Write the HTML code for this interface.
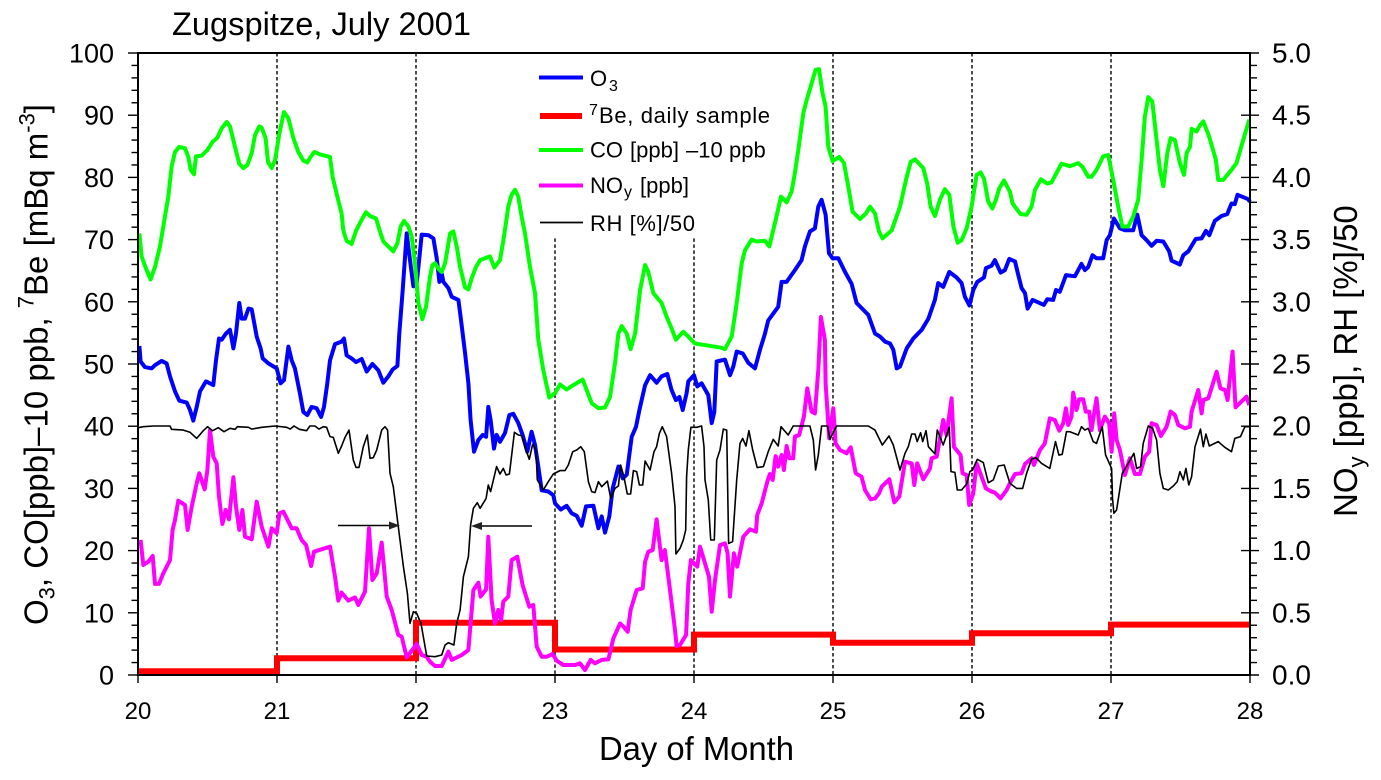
<!DOCTYPE html>
<html lang="en">
<head>
<meta charset="utf-8">
<title>Zugspitze, July 2001</title>
<style>
html,body{margin:0;padding:0;background:#fff;}
svg{display:block;font-family:"Liberation Sans",Arial,sans-serif;fill:#000;}
</style>
</head>
<body>
<svg id="chart" xmlns="http://www.w3.org/2000/svg" width="1381" height="780" viewBox="0 0 1381 780">
  <rect x="0" y="0" width="1381" height="780" fill="#fff"/>
  <text x="172" y="35" font-size="32" textLength="299" lengthAdjust="spacingAndGlyphs">Zugspitze, July 2001</text>
  <g id="grid"></g>
  <g id="series"></g>
  <g id="axes"></g>

  <g>
    <line x1="338" y1="525.5" x2="392" y2="525.5" stroke="#000" stroke-width="1.6"/>
    <polygon points="400,525.5 389,521.5 389,529.5" fill="#222"/>
  </g>
  <g>
    <line x1="480" y1="526" x2="532" y2="526" stroke="#000" stroke-width="1.6"/>
    <polygon points="471,526 482,522 482,530" fill="#222"/>
  </g>

  <g font-size="22">
    <g>
      <line x1="539" y1="77.5" x2="583" y2="77.5" stroke="#0000ff" stroke-width="4"/>
      <text x="590" y="86">O</text><text x="609" y="91" font-size="16">3</text>
    </g>
    <g>
      <line x1="540" y1="116" x2="582" y2="116" stroke="#ff0000" stroke-width="6"/>
      <text x="589" y="115" font-size="16">7</text>
      <text x="599" y="123" textLength="171" lengthAdjust="spacing">Be, daily sample</text>
    </g>
    <g>
      <line x1="539" y1="150" x2="583" y2="150" stroke="#00ff00" stroke-width="4"/>
      <text x="590" y="157.5">CO</text><text x="630" y="157.5">[ppb]</text><text x="686" y="157.5">–10</text><text x="729" y="157.5">ppb</text>
    </g>
    <g>
      <line x1="539" y1="185.5" x2="583" y2="185.5" stroke="#ff00ff" stroke-width="4"/>
      <text x="590" y="193">NO</text><text x="624" y="197" font-size="16">y</text><text x="640" y="193">[ppb]</text>
    </g>
    <g>
      <line x1="540" y1="222.5" x2="583" y2="222.5" stroke="#000" stroke-width="1.7"/>
      <text x="590" y="231" textLength="105" lengthAdjust="spacing">RH [%]/50</text>
    </g>
  </g>

  <text x="599" y="760" font-size="33" textLength="195" lengthAdjust="spacingAndGlyphs">Day of Month</text>
  <text transform="translate(47.5,625) rotate(-90)" font-size="33">O<tspan font-size="22" dy="7">3</tspan><tspan dy="-7">, CO[ppb]–10 ppb, </tspan><tspan font-size="22" dy="-14">7</tspan><tspan dy="14">Be [mBq m</tspan><tspan font-size="22" dy="-13">-3</tspan><tspan dy="13">]</tspan></text>
  <text transform="translate(1357,517) rotate(-90)" font-size="33">NO<tspan font-size="22" dy="7">y</tspan><tspan dy="-7"> [ppb], RH [%]/50</tspan></text>
</svg>
<script>
const dayTicks = [20, 21, 22, 23, 24, 25, 26, 27, 28];
const leftTicks = [0, 10, 20, 30, 40, 50, 60, 70, 80, 90, 100];
const rightTicks = ["0.0", "0.5", "1.0", "1.5", "2.0", "2.5", "3.0", "3.5", "4.0", "4.5", "5.0"];
const tallGridDays = [21, 22, 25, 26, 27];
const shortGridDays = [23, 24];

const beDays = [20, 21, 22, 23, 24, 25, 26, 27];
const beValues = [0.6, 2.7, 8.4, 4.1, 6.5, 5.2, 6.7, 8.1];

const o3Days = [20.01,20.019,20.05,20.098,20.122,20.17,20.206,20.23,20.266,20.297,20.35,20.374,20.398,20.422,20.446,20.489,20.542,20.561,20.583,20.602,20.633,20.662,20.686,20.705,20.729,20.746,20.77,20.794,20.818,20.854,20.882,20.897,20.938,20.998,21.026,21.05,21.082,21.106,21.129,21.165,21.189,21.218,21.249,21.285,21.317,21.338,21.362,21.381,21.417,21.465,21.482,21.501,21.537,21.568,21.609,21.645,21.686,21.729,21.765,21.801,21.832,21.866,21.88,21.904,21.933,21.957,21.981,22.005,22.024,22.041,22.089,22.125,22.149,22.168,22.185,22.197,22.233,22.257,22.305,22.321,22.353,22.377,22.393,22.417,22.449,22.48,22.504,22.52,22.537,22.561,22.58,22.604,22.64,22.672,22.7,22.736,22.767,22.801,22.832,22.856,22.88,22.904,22.952,22.988,23.0,23.041,23.084,23.12,23.156,23.192,23.223,23.276,23.312,23.336,23.36,23.391,23.415,23.456,23.487,23.516,23.552,23.583,23.607,23.648,23.684,23.731,23.767,23.808,23.839,23.87,23.895,23.919,23.947,23.959,24.0,24.024,24.055,24.103,24.127,24.146,24.163,24.223,24.259,24.283,24.307,24.35,24.391,24.439,24.475,24.511,24.534,24.606,24.63,24.666,24.726,24.774,24.798,24.834,24.87,24.894,24.918,24.947,24.971,24.997,25.038,25.086,25.134,25.17,25.254,25.302,25.338,25.374,25.41,25.434,25.458,25.482,25.53,25.578,25.638,25.686,25.733,25.757,25.793,25.837,25.889,25.925,25.949,25.981,26.009,26.038,26.086,26.1,26.141,26.165,26.206,26.237,26.268,26.309,26.333,26.357,26.381,26.4,26.436,26.477,26.517,26.541,26.584,26.604,26.632,26.676,26.74,26.788,26.812,26.836,26.867,26.896,26.944,26.968,26.992,27.021,27.064,27.1,27.16,27.189,27.22,27.256,27.292,27.328,27.376,27.419,27.436,27.496,27.52,27.556,27.609,27.652,27.683,27.707,27.747,27.795,27.836,27.867,27.891,27.91,27.987,27.999];
const o3Values = [52.9,50.4,49.5,49.3,49.8,50.5,50.1,48.0,45.6,44.1,43.8,42.6,40.9,43.1,45.6,47.2,46.6,50.6,54.1,53.9,54.9,55.5,52.5,54.9,59.8,57.3,57.3,58.9,58.8,54.4,52.5,50.9,50.1,49.3,46.9,47.4,52.8,50.6,49.3,45.3,42.3,41.8,43.1,42.9,41.5,43.1,46.9,50.6,53.2,53.6,54.1,51.4,50.9,50.3,50.8,48.8,50.0,49.0,47.0,48.0,49.1,49.7,54.9,61.9,71.0,66.7,62.5,63.0,67.0,70.8,70.7,70.2,67.0,63.2,64.6,63.2,62.2,60.8,60.3,57.6,51.7,46.9,41.0,35.9,37.8,38.6,38.3,43.1,41.0,36.4,38.6,37.5,38.9,41.8,42.0,40.5,38.6,35.9,39.1,37.0,33.5,29.7,29.5,28.9,27.6,26.6,27.2,26.0,25.6,24.0,27.1,27.2,23.6,25.5,22.9,25.5,30.0,33.5,31.6,32.2,38.3,39.9,42.6,46.6,48.2,47.0,48.0,48.4,45.8,44.2,44.7,42.6,45.3,47.2,48.2,46.4,46.9,45.0,40.5,42.3,50.4,50.7,48.2,49.6,52.0,51.7,50.2,49.3,52.3,54.9,57.0,59.2,63.2,63.2,65.1,66.7,68.9,71.3,71.8,75.3,76.4,74.0,67.8,67.0,67.0,64.8,62.9,59.8,57.9,54.9,54.4,53.6,53.3,52.3,49.3,49.6,52.5,54.1,55.5,57.3,60.3,63.0,62.4,64.8,63.9,63.0,60.8,59.4,61.9,63.2,63.9,65.4,65.8,66.7,64.7,65.1,66.9,66.5,64.3,62.2,61.4,58.9,60.3,59.9,59.5,60.4,60.3,61.9,61.6,64.3,64.1,66.1,65.1,65.6,67.5,67.0,67.0,69.9,70.7,73.4,71.8,71.5,71.5,74.0,70.7,69.9,69.0,69.8,69.7,68.1,66.6,66.0,67.5,68.1,70.1,70.2,71.4,70.7,73.0,73.8,74.1,75.8,75.7,77.2,76.5,76.1];

const coDays = [20.01,20.026,20.062,20.091,20.122,20.158,20.182,20.218,20.242,20.266,20.297,20.338,20.362,20.379,20.403,20.417,20.458,20.499,20.537,20.571,20.602,20.638,20.662,20.698,20.729,20.758,20.787,20.818,20.842,20.873,20.89,20.918,20.935,20.962,20.986,21.017,21.05,21.082,21.118,21.153,21.189,21.218,21.242,21.269,21.309,21.381,21.4,21.429,21.465,21.477,21.501,21.537,21.568,21.609,21.64,21.669,21.712,21.741,21.765,21.801,21.837,21.866,21.89,21.914,21.945,21.969,21.993,22.017,22.046,22.072,22.101,22.118,22.137,22.161,22.185,22.209,22.245,22.269,22.293,22.317,22.353,22.377,22.401,22.432,22.461,22.496,22.532,22.564,22.604,22.633,22.664,22.688,22.712,22.736,22.76,22.784,22.82,22.856,22.88,22.916,22.959,23.0,23.036,23.084,23.132,23.199,23.228,23.264,23.312,23.36,23.396,23.432,23.456,23.48,23.516,23.544,23.576,23.612,23.648,23.671,23.707,23.767,23.803,23.839,23.87,23.923,23.959,24.007,24.199,24.223,24.271,24.307,24.343,24.367,24.415,24.451,24.511,24.542,24.582,24.626,24.666,24.702,24.726,24.75,24.786,24.81,24.846,24.875,24.899,24.925,24.947,24.966,24.997,25.045,25.079,25.11,25.141,25.194,25.237,25.266,25.302,25.331,25.357,25.422,25.482,25.525,25.559,25.59,25.65,25.678,25.702,25.733,25.769,25.805,25.837,25.866,25.897,25.925,25.961,25.997,26.033,26.062,26.086,26.117,26.146,26.172,26.196,26.23,26.273,26.292,26.325,26.349,26.393,26.429,26.453,26.496,26.541,26.572,26.608,26.644,26.704,26.764,26.795,26.836,26.86,26.896,26.944,26.98,27.016,27.052,27.081,27.124,27.16,27.196,27.22,27.244,27.268,27.297,27.328,27.352,27.376,27.405,27.429,27.46,27.496,27.525,27.544,27.568,27.58,27.616,27.64,27.664,27.707,27.755,27.771,27.807,27.867,27.903,27.951,27.995];
const coValues = [71.0,67.3,65.1,63.6,65.6,68.9,72.1,76.9,81.7,84.1,84.9,84.7,83.3,81.2,80.5,83.4,83.5,84.4,85.7,86.4,87.9,88.9,88.2,84.9,82.2,81.5,82.0,83.9,86.8,88.2,88.0,86.3,82.5,81.5,82.8,87.1,90.5,89.5,86.3,84.1,82.7,82.4,83.3,84.1,83.7,83.3,80.1,77.4,74.2,71.5,69.8,69.3,71.4,73.2,74.4,73.8,73.4,71.3,69.7,68.9,68.1,69.4,72.1,73.0,72.1,70.5,66.2,59.8,57.2,59.2,64.0,65.9,66.2,65.3,64.8,66.2,71.0,71.3,68.9,65.6,62.3,62.0,63.8,65.6,66.7,67.0,67.3,65.5,66.7,70.5,75.3,77.2,78.0,76.9,73.7,71.0,65.6,61.4,53.9,49.0,44.6,45.3,46.7,45.9,46.6,47.5,45.8,43.7,42.9,43.0,44.7,50.1,54.9,56.1,54.9,52.4,54.9,61.9,65.9,64.8,61.4,59.8,57.6,55.7,53.9,55.2,54.4,53.3,52.6,52.4,54.4,59.8,66.2,68.3,70.0,69.7,69.8,68.9,72.6,76.9,76.0,77.7,80.7,84.4,90.3,92.4,95.1,97.3,97.4,93.5,91.4,84.9,82.6,83.3,82.3,78.5,74.5,73.3,74.2,75.3,74.2,71.3,70.2,71.5,75.3,79.6,82.5,82.9,81.5,79.0,75.3,73.8,76.4,78.1,77.2,72.1,69.5,69.9,71.8,75.3,80.4,80.8,79.8,76.1,75.0,76.4,78.2,79.5,77.7,75.8,74.8,74.1,74.0,75.3,78.0,79.7,79.0,79.2,80.7,82.2,81.8,82.3,81.7,80.1,80.1,81.2,83.4,83.6,79.6,75.3,72.1,72.1,73.7,76.4,82.8,89.8,92.9,92.2,86.0,81.2,78.6,83.9,86.3,86.0,82.3,80.4,83.9,84.9,87.8,87.4,88.4,89.0,86.5,82.8,79.6,79.6,81.2,82.3,86.0,89.3];

const noyDays = [20.019,20.038,20.074,20.106,20.122,20.151,20.182,20.23,20.249,20.266,20.29,20.338,20.357,20.386,20.422,20.441,20.48,20.499,20.518,20.542,20.566,20.583,20.607,20.631,20.655,20.686,20.705,20.729,20.751,20.77,20.818,20.854,20.89,20.938,20.962,20.998,21.017,21.046,21.106,21.141,21.177,21.209,21.245,21.266,21.381,21.417,21.441,21.465,21.513,21.561,21.585,21.633,21.662,21.686,21.717,21.753,21.789,21.825,21.873,21.897,21.933,22.005,22.041,22.077,22.101,22.137,22.185,22.233,22.257,22.329,22.377,22.413,22.449,22.465,22.504,22.52,22.544,22.568,22.592,22.612,22.628,22.664,22.688,22.729,22.767,22.815,22.844,22.868,22.904,22.94,22.983,23.012,23.06,23.144,23.18,23.216,23.257,23.288,23.336,23.384,23.42,23.468,23.492,23.523,23.544,23.588,23.631,23.648,23.671,23.703,23.731,23.767,23.791,23.827,23.863,23.875,23.899,23.943,23.959,23.978,24.024,24.043,24.079,24.108,24.127,24.151,24.187,24.223,24.242,24.259,24.287,24.311,24.355,24.403,24.446,24.455,24.487,24.527,24.546,24.566,24.587,24.606,24.63,24.647,24.666,24.686,24.714,24.726,24.757,24.791,24.815,24.846,24.87,24.894,24.913,24.942,24.947,24.973,25.002,25.019,25.05,25.098,25.127,25.163,25.206,25.23,25.271,25.302,25.331,25.35,25.405,25.441,25.477,25.518,25.566,25.585,25.606,25.65,25.698,25.709,25.746,25.793,25.817,25.853,25.87,25.918,25.932,25.961,25.98,26.009,26.033,26.069,26.1,26.141,26.165,26.206,26.249,26.273,26.309,26.357,26.381,26.429,26.445,26.489,26.524,26.56,26.596,26.628,26.656,26.676,26.692,26.716,26.728,26.752,26.771,26.8,26.819,26.843,26.86,26.896,26.92,26.956,26.987,27.004,27.023,27.04,27.064,27.1,27.136,27.172,27.208,27.244,27.275,27.292,27.328,27.359,27.4,27.429,27.46,27.484,27.532,27.568,27.58,27.628,27.652,27.664,27.7,27.76,27.788,27.82,27.839,27.875,27.896,27.975,27.995];
const noyValues = [1.085,.884,.911,.957,.732,.732,.817,.924,1.166,1.246,1.401,1.367,1.166,1.353,1.541,1.621,1.492,1.648,1.969,1.755,1.701,1.434,1.214,1.326,1.251,1.589,1.353,1.166,1.326,1.112,1.091,1.393,1.192,1.032,1.179,1.139,1.3,1.313,1.179,1.179,1.085,1.045,.876,.991,1.032,.79,.598,.662,.598,.624,.563,.67,1.179,.764,.817,1.064,.63,.523,.322,.308,.142,.249,.161,.147,.107,.072,.072,.188,.121,.161,.201,.683,.742,.63,.689,1.112,.603,.415,.523,.442,.59,.63,.924,.951,.723,.549,.563,.228,.147,.147,.169,.115,.08,.08,.094,.04,.121,.094,.121,.126,.295,.415,.389,.348,.523,.683,.697,.911,.991,1.005,1.251,.924,1.005,.683,.362,.233,.241,.322,.737,.924,.871,1.032,.898,.79,.509,.764,1.045,1.058,.978,.63,.978,.871,1.112,1.171,1.152,1.286,1.38,1.554,1.616,1.568,1.76,1.675,1.768,1.648,1.841,1.742,1.742,1.916,1.929,2.077,2.304,2.117,2.103,2.452,2.878,2.693,2.345,1.903,2.144,1.862,1.809,1.782,1.83,1.621,1.594,1.487,1.412,1.42,1.46,1.514,1.573,1.388,1.434,1.715,1.701,1.527,1.701,1.573,1.661,1.742,1.755,2.05,1.929,2.224,1.835,1.768,1.621,1.608,1.367,1.46,1.701,1.594,1.5,1.474,1.466,1.42,1.487,1.541,1.616,1.621,1.696,1.742,1.688,1.809,1.862,2.063,2.05,1.964,2.023,2.144,2.01,2.077,2.27,2.13,2.216,2.216,2.117,2.117,1.969,2.224,1.969,2.077,2.023,1.795,2.103,1.889,1.809,1.608,1.742,1.616,1.616,1.755,1.795,2.023,2.01,1.921,1.996,2.117,2.09,2.01,1.983,1.996,2.117,2.291,2.103,2.211,2.224,2.438,2.304,2.291,2.211,2.6,2.152,2.237,2.17];

const rhDays = [20.002,20.038,20.11,20.23,20.242,20.326,20.374,20.422,20.47,20.501,20.537,20.578,20.619,20.662,20.698,20.715,20.794,20.818,20.89,20.986,21.07,21.094,21.122,21.161,21.213,21.237,21.273,21.302,21.333,21.357,21.381,21.405,21.441,21.465,21.489,21.518,21.549,21.568,21.59,21.621,21.65,21.669,21.693,21.717,21.753,21.777,21.796,21.813,21.837,21.873,21.909,21.938,21.957,21.981,22.005,22.036,22.077,22.137,22.185,22.209,22.233,22.273,22.293,22.317,22.341,22.377,22.393,22.413,22.441,22.461,22.504,22.52,22.537,22.58,22.604,22.628,22.648,22.672,22.708,22.736,22.76,22.791,22.815,22.839,22.863,22.873,22.916,22.952,22.988,23.036,23.072,23.096,23.127,23.156,23.185,23.211,23.24,23.264,23.288,23.312,23.336,23.377,23.401,23.432,23.456,23.472,23.496,23.52,23.544,23.564,23.588,23.607,23.631,23.648,23.684,23.712,23.731,23.751,23.772,23.803,23.839,23.863,23.87,23.899,23.923,23.94,23.947,23.959,23.978,24.019,24.055,24.072,24.079,24.103,24.12,24.146,24.163,24.187,24.211,24.235,24.249,24.278,24.307,24.331,24.35,24.374,24.395,24.422,24.455,24.499,24.534,24.57,24.606,24.626,24.678,24.714,24.834,24.858,24.875,24.894,24.918,24.961,24.978,25.026,25.254,25.302,25.355,25.403,25.434,25.482,25.518,25.542,25.566,25.59,25.606,25.63,25.645,25.669,25.686,25.733,25.75,25.793,25.837,25.849,25.877,25.894,25.925,25.961,25.985,26.004,26.038,26.081,26.117,26.153,26.189,26.232,26.273,26.321,26.364,26.393,26.429,26.46,26.501,26.56,26.601,26.625,26.649,26.68,26.704,26.764,26.788,26.812,26.836,26.872,26.896,26.937,26.961,27.004,27.011,27.021,27.04,27.081,27.124,27.165,27.184,27.213,27.232,27.268,27.299,27.328,27.352,27.376,27.412,27.448,27.476,27.496,27.52,27.539,27.56,27.58,27.604,27.644,27.664,27.683,27.707,27.771,27.819,27.867,27.891,27.932,27.963,27.995];
const rhValues = [1.988,1.996,2.002,2.002,1.975,1.969,1.951,1.902,1.964,1.996,1.964,1.988,1.956,1.983,1.975,1.996,1.991,1.977,1.991,2.002,1.991,1.977,2.002,1.975,1.964,2.002,2.002,1.977,1.996,1.991,1.916,1.91,1.782,1.841,1.91,1.969,1.728,1.669,1.669,1.835,1.929,1.742,1.747,1.809,1.969,1.996,1.969,1.621,1.514,1.192,.871,.656,.415,.509,.496,.415,.153,.147,.161,.241,.26,.241,.415,.523,.79,.951,1.206,1.34,1.385,1.34,1.42,1.527,1.474,1.675,1.616,1.661,1.608,1.616,1.951,1.929,1.924,1.809,1.734,1.854,1.809,1.568,1.487,1.554,1.616,1.643,1.643,1.688,1.795,1.809,1.835,1.795,1.554,1.474,1.466,1.554,1.514,1.559,1.42,1.5,1.519,1.688,1.594,1.455,1.455,1.643,1.634,1.527,1.527,1.72,1.648,1.795,1.835,1.943,1.996,1.916,1.621,1.353,.973,1.018,1.085,1.166,1.594,1.809,1.991,1.991,2.002,1.835,1.568,1.407,1.085,1.085,1.728,1.809,1.977,1.969,1.058,1.072,1.568,1.862,1.902,1.841,1.964,1.809,1.667,1.675,1.795,1.894,1.841,1.996,1.929,2.002,2.002,1.889,1.648,1.768,2.002,2.002,1.894,2.002,2.002,1.969,1.849,1.921,1.849,1.648,1.782,1.835,1.937,1.937,1.876,1.948,1.876,1.964,1.835,1.777,1.969,1.849,1.991,1.635,1.629,1.487,1.487,1.535,1.635,1.648,1.734,1.707,1.546,1.568,1.68,1.688,1.541,1.5,1.5,1.621,1.736,1.747,1.701,1.661,1.876,1.768,1.774,1.956,1.956,1.929,1.996,1.969,1.983,1.876,1.862,1.996,1.768,1.661,1.42,1.3,1.326,1.621,1.701,1.782,1.661,1.675,1.862,2.002,1.983,1.889,1.621,1.5,1.487,1.519,1.554,1.634,1.568,1.661,1.527,1.594,1.835,1.977,1.835,1.937,1.841,1.876,1.83,1.795,1.902,1.916,1.996,1.996];

const svgNS = "http://www.w3.org/2000/svg";
const xScale = function (day) { return 138 + (day - 20) * 139; };
const yLeft = function (v) { return 675 - v * 6.22; };
const yRight = function (v) { return 675 - v * 124.4; };

function make(tag, attrs, parent) {
  const node = document.createElementNS(svgNS, tag);
  for (const key in attrs) { node.setAttribute(key, attrs[key]); }
  parent.appendChild(node);
  return node;
}
function linePath(days, values, yScale) {
  return days.map(function (d, i) {
    return (i ? "L" : "M") + xScale(d).toFixed(1) + " " + yScale(values[i]).toFixed(1);
  }).join("");
}
function stepPath(days, values, yScale, endDay) {
  let path = "";
  days.forEach(function (d, i) {
    const next = i + 1 < days.length ? days[i + 1] : endDay;
    path += (i ? "L" : "M") + xScale(d).toFixed(1) + " " + yScale(values[i]).toFixed(1);
    path += "L" + xScale(next).toFixed(1) + " " + yScale(values[i]).toFixed(1);
  });
  return path;
}

const gridLayer = document.getElementById("grid");
const seriesLayer = document.getElementById("series");
const axesLayer = document.getElementById("axes");

tallGridDays.forEach(function (d) {
  const el = make("line", { x1: xScale(d), x2: xScale(d), y1: yLeft(100), y2: yLeft(0), stroke: "#000", "stroke-width": 1.4, "stroke-dasharray": "3.5 2.5" }, gridLayer);
  
  
});
shortGridDays.forEach(function (d) {
  const el = make("line", { x1: xScale(d), x2: xScale(d), y1: yLeft(70.2), y2: yLeft(0), stroke: "#000", "stroke-width": 1.4, "stroke-dasharray": "3.5 2.5" }, gridLayer);
  
  
});

const o3Line = make("path", { d: linePath(o3Days, o3Values, yLeft), fill: "none", stroke: "#0000ff", "stroke-width": 4, "stroke-linejoin": "round" }, seriesLayer);



const beLine = make("path", { d: stepPath(beDays, beValues, yLeft, 28), fill: "none", stroke: "#ff0000", "stroke-width": 6, "stroke-linejoin": "miter" }, seriesLayer);



const coLine = make("path", { d: linePath(coDays, coValues, yLeft), fill: "none", stroke: "#00ff00", "stroke-width": 4, "stroke-linejoin": "round" }, seriesLayer);



const noyLine = make("path", { d: linePath(noyDays, noyValues, yRight), fill: "none", stroke: "#ff00ff", "stroke-width": 4, "stroke-linejoin": "round" }, seriesLayer);



const rhLine = make("path", { d: linePath(rhDays, rhValues, yRight), fill: "none", stroke: "#000", "stroke-width": 1.6, "stroke-linejoin": "round" }, seriesLayer);



const frame = make("rect", { x: xScale(20), y: yLeft(100), width: xScale(28) - xScale(20), height: yLeft(0) - yLeft(100), fill: "none", stroke: "#000", "stroke-width": 2 }, axesLayer);



leftTicks.forEach(function (v, i) {
  const major = make("line", { x1: 128, x2: 138, y1: yLeft(v), y2: yLeft(v), stroke: "#000", "stroke-width": 1.4 }, axesLayer);
  
  
  const label = make("text", { x: 114, y: yLeft(v) + 9.5, "font-size": 27, "text-anchor": "end" }, axesLayer);
  
  
  label.textContent = String(v);
  if (i < leftTicks.length - 1) {
    for (let k = 1; k < 5; k++) {
      const minor = make("line", { x1: 131.5, x2: 138, y1: yLeft(v + k * 2), y2: yLeft(v + k * 2), stroke: "#000", "stroke-width": 1.4 }, axesLayer);
      
      
    }
  }
});

rightTicks.forEach(function (t, i) {
  const v = parseFloat(t);
  const major = make("line", { x1: 1241, x2: 1259, y1: yRight(v), y2: yRight(v), stroke: "#000", "stroke-width": 1.4 }, axesLayer);
  
  
  const label = make("text", { x: 1272, y: yRight(v) + 9.5, "font-size": 28 }, axesLayer);
  
  
  label.textContent = t;
  if (i < rightTicks.length - 1) {
    for (let k = 1; k < 5; k++) {
      const minor = make("line", { x1: 1250, x2: 1257, y1: yRight(v + k * 0.1), y2: yRight(v + k * 0.1), stroke: "#000", "stroke-width": 1.4 }, axesLayer);
      
      
    }
  }
});

dayTicks.forEach(function (d) {
  const tick = make("line", { x1: xScale(d), x2: xScale(d), y1: 675, y2: 683, stroke: "#000", "stroke-width": 1.4 }, axesLayer);
  
  
  const label = make("text", { x: xScale(d), y: 719, "font-size": 24, "text-anchor": "middle" }, axesLayer);
  
  
  label.textContent = String(d);
});
</script>
</body>
</html>
